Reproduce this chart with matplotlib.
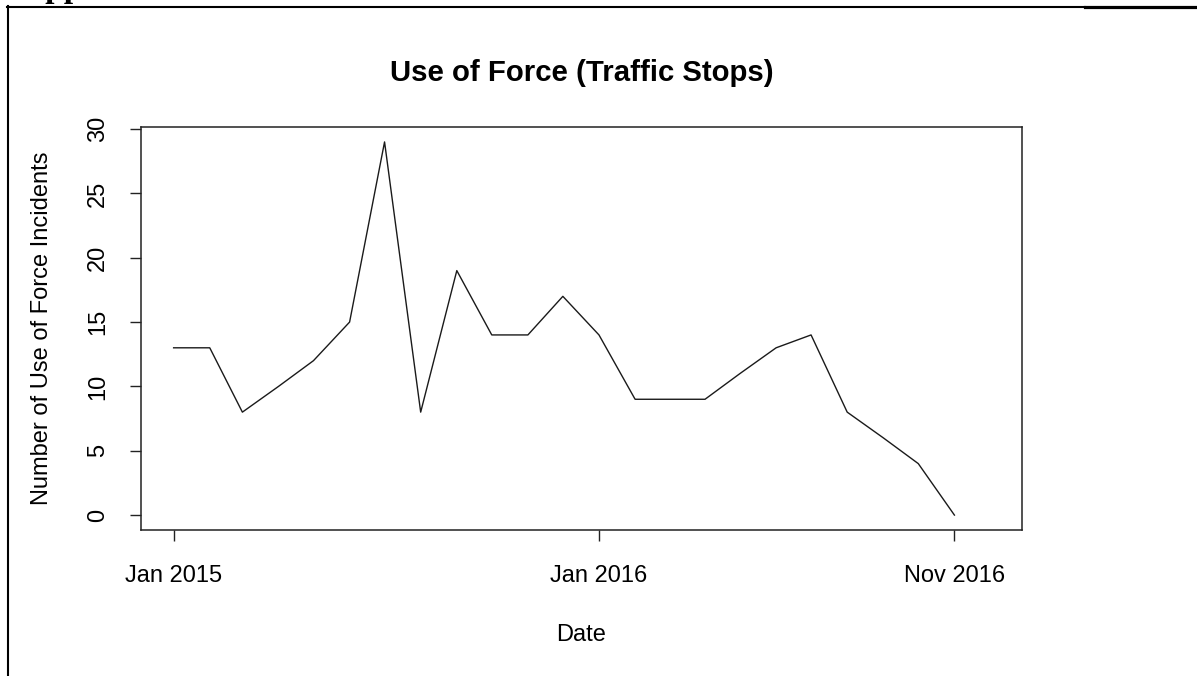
import numpy as np
import pandas as pd
import matplotlib
matplotlib.use("Agg")
import matplotlib.pyplot as plt
import matplotlib.dates as mdates
from matplotlib.lines import Line2D

plt.rcParams['font.family'] = ['Liberation Sans', 'DejaVu Sans']

# monthly counts, Jan 2015 .. Nov 2016
months = pd.date_range("2015-01-01", "2016-11-01", freq="MS")
incidents = [13, 13, 8, 10, 12, 15, 29, 8, 19, 14, 14, 17,
             14, 9, 9, 9, 11, 13, 14, 8, 6, 4, 0]
# the x range of the original runs to Dec 2016
range_end = pd.Timestamp("2016-12-01")
tick_dates = [pd.Timestamp("2015-01-01"), pd.Timestamp("2016-01-01"), pd.Timestamp("2016-11-01")]
tick_labels = ["Jan 2015", "Jan 2016", "Nov 2016"]
y_ticks = [0, 5, 10, 15, 20, 25, 30]

W, H = 1197, 676
fig = plt.figure(figsize=(W / 100, H / 100), dpi=100)
ax = fig.add_axes([141 / W, (H - 530) / H, (1022 - 141) / W, (530 - 127) / H])

ax.plot(months, incidents, color='#1a1a1a', lw=1.0)

# R style 4% padding
span = range_end - months[0]
ax.set_xlim(months[0] - span * 0.04, range_end + span * 0.04)
ymax = max(incidents)
ax.set_ylim(-0.04 * ymax, ymax * 1.04)

ax.set_xticks(mdates.date2num(tick_dates))
ax.set_xticklabels(tick_labels)
ax.set_yticks(y_ticks)
ax.set_yticklabels([str(v) for v in y_ticks], rotation=90, va='center')

ax.tick_params(axis='both', length=8, width=1.0, color='#222222', labelsize=17)
ax.tick_params(axis='x', pad=17)
ax.tick_params(axis='y', pad=15)
for s in ax.spines.values():
    s.set_linewidth(1.1)
    s.set_color('#222222')

ax.set_title("Use of Force (Traffic Stops)", fontsize=21.2, fontweight='bold',
             y=(530 - 73) / 403, va='center', pad=0)
ax.set_xlabel("Date", fontsize=17)
ax.xaxis.label.set_va('center')
ax.xaxis.set_label_coords(0.5, -(635 - 530) / 403)
ax.set_ylabel("Number of Use of Force Incidents", fontsize=17)
ax.yaxis.label.set_va('center')
ax.yaxis.set_label_coords(-(141 - 42) / 881, 0.5)

# page border and clipped heading from the source document
fig.add_artist(Line2D([7.5 / W, 7.5 / W], [0, 1 - 6 / H], color='black', lw=1.5,
                      transform=fig.transFigure))
fig.add_artist(Line2D([7 / W, 1085 / W], [1 - 6.5 / H, 1 - 6.5 / H], color='black', lw=1.5,
                      transform=fig.transFigure))
fig.add_artist(Line2D([1085 / W, 1], [1 - 6.5 / H, 1 - 6.5 / H], color='black', lw=2.3,
                      transform=fig.transFigure))
fig.text(22 / W, 1 + 2.5 / H, "Appendix", family=['Liberation Serif'], fontweight='bold',
         fontsize=24, va='baseline', ha='left')

fig.savefig("out.png", dpi=100)
